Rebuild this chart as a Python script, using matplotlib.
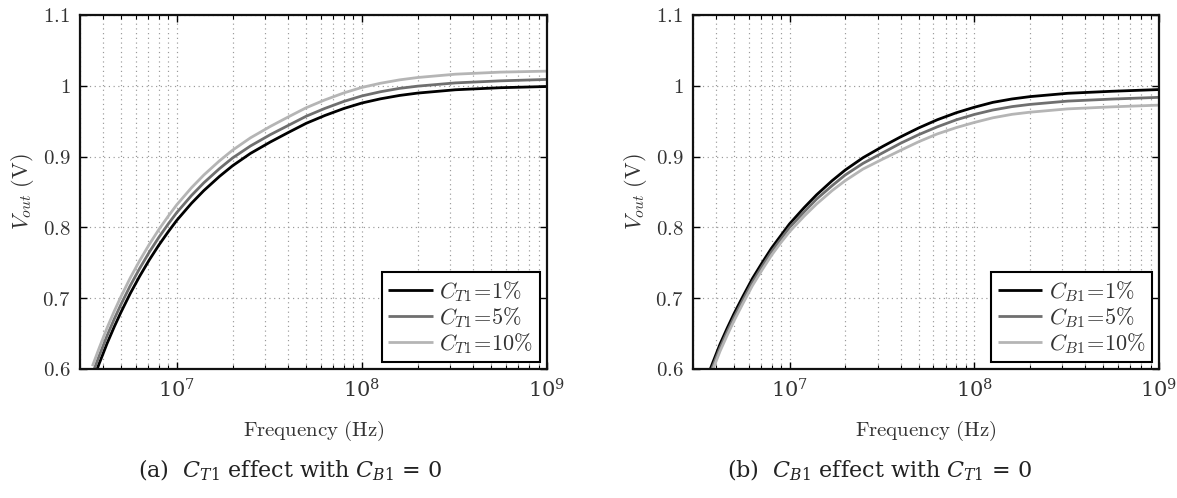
import numpy as np
import matplotlib
matplotlib.use("Agg")
import matplotlib.pyplot as plt
from matplotlib.ticker import LogLocator, FuncFormatter, LogFormatterSciNotation, NullFormatter

plt.rcParams['mathtext.fontset'] = 'cm'
plt.rcParams['font.family'] = ['DejaVu Serif']

# Frequency samples (Hz)
freq = [3.5e6, 3.8e6, 4.2e6, 4.6e6, 5.0e6, 5.6e6, 6.3e6, 7.1e6, 8.0e6, 9.0e6,
        1.0e7, 1.2e7, 1.4e7, 1.7e7, 2.0e7, 2.5e7, 3.2e7, 4.0e7, 5.0e7, 6.3e7,
        8.0e7, 1.0e8, 1.26e8, 1.6e8, 2.0e8, 3.2e8, 5.6e8, 1.0e9]

# Panel (a): C_T1 sweep (V)
a_ct1_1 = [0.582, 0.607, 0.636, 0.660, 0.6805, 0.7065, 0.731, 0.754, 0.775, 0.794,
           0.810, 0.834, 0.852, 0.872, 0.887, 0.9045, 0.9206, 0.934, 0.947, 0.958,
           0.968, 0.9757, 0.9816, 0.9864, 0.9897, 0.9944, 0.9973, 0.9990]
a_ct1_5 = [0.593, 0.618, 0.647, 0.671, 0.6915, 0.7175, 0.742, 0.765, 0.786, 0.805,
           0.821, 0.845, 0.863, 0.883, 0.898, 0.915, 0.931, 0.944, 0.957, 0.968,
           0.978, 0.9857, 0.9916, 0.9964, 0.9995, 1.0041, 1.0070, 1.0090]
a_ct1_10 = [0.604, 0.629, 0.658, 0.682, 0.7025, 0.7285, 0.753, 0.776, 0.797, 0.816,
            0.832, 0.856, 0.874, 0.894, 0.909, 0.9265, 0.9426, 0.956, 0.969, 0.980,
            0.990, 0.9977, 1.0036, 1.0084, 1.0117, 1.0164, 1.0193, 1.0207]

# Panel (b): C_B1 sweep (V)
b_cb1_1 = [0.582, 0.606, 0.635, 0.658, 0.678, 0.703, 0.728, 0.750, 0.771, 0.789,
           0.805, 0.828, 0.846, 0.866, 0.881, 0.8985, 0.9145, 0.928, 0.9405, 0.952,
           0.962, 0.9697, 0.9766, 0.9814, 0.9847, 0.9894, 0.9923, 0.9947]
b_cb1_5 = [0.577, 0.601, 0.630, 0.653, 0.673, 0.698, 0.723, 0.745, 0.766, 0.784,
           0.800, 0.822, 0.840, 0.859, 0.874, 0.8905, 0.9055, 0.919, 0.931, 0.942,
           0.952, 0.9595, 0.9658, 0.9706, 0.9737, 0.9784, 0.9813, 0.9837]
b_cb1_10 = [0.572, 0.596, 0.625, 0.648, 0.668, 0.693, 0.718, 0.740, 0.761, 0.779,
            0.794, 0.816, 0.833, 0.852, 0.866, 0.8825, 0.8966, 0.909, 0.921, 0.932,
            0.941, 0.9482, 0.9548, 0.9597, 0.9627, 0.9674, 0.9703, 0.9727]

a_labels = [r'$C_{T1}\!=\!1\%$', r'$C_{T1}\!=\!5\%$', r'$C_{T1}\!=\!10\%$']
b_labels = [r'$C_{B1}\!=\!1\%$', r'$C_{B1}\!=\!5\%$', r'$C_{B1}\!=\!10\%$']
y_ticks = [0.6, 0.7, 0.8, 0.9, 1.0, 1.1]
captions = [r'(a)  $C_{T1}$ effect with $C_{B1}$ = 0',
            r'(b)  $C_{B1}$ effect with $C_{T1}$ = 0']

colors = ['#000000', '#6f6f6f', '#b5b5b5']

fig = plt.figure(figsize=(11.77, 4.98), dpi=100)
ax_a = fig.add_axes([80/1177, 1-369/498, 467/1177, 354/498])
ax_b = fig.add_axes([693/1177, 1-369/498, 466/1177, 354/498])

panels = [(ax_a, [a_ct1_1, a_ct1_5, a_ct1_10], a_labels),
          (ax_b, [b_cb1_1, b_cb1_5, b_cb1_10], b_labels)]

FS = 15
for ax, series, labels in panels:
    for vals, c, lab in zip(series, colors, labels):
        ax.plot(freq, vals, color=c, lw=2.0, label=lab, solid_capstyle='butt',
                solid_joinstyle='round')
    ax.set_xscale('log')
    ax.set_xlim(3.0e6, 1e9)
    ax.set_ylim(0.6, 1.1)
    ax.set_yticks(y_ticks)
    ax.yaxis.set_major_formatter(FuncFormatter(lambda v, p: r'$%g$' % round(v, 2)))
    ax.xaxis.set_major_locator(LogLocator(base=10, numticks=10))
    ax.xaxis.set_minor_locator(LogLocator(base=10, subs=np.arange(2, 10), numticks=20))
    ax.xaxis.set_major_formatter(LogFormatterSciNotation())
    ax.xaxis.set_minor_formatter(NullFormatter())
    ax.grid(True, which='major', axis='both', linestyle=(0, (1, 3)), color='#999999', lw=0.85)
    ax.grid(True, which='minor', axis='x', linestyle=(0, (1, 3)), color='#999999', lw=0.85)
    ax.tick_params(which='both', direction='in', top=True, right=True, labelsize=FS,
                   labelcolor='#333333')
    ax.tick_params(which='major', length=5, width=1.0, pad=7)
    ax.tick_params(which='minor', length=3, width=0.8)
    for s in ax.spines.values():
        s.set_linewidth(1.6)
        s.set_color('#111111')
    ax.set_xlabel(r'$\mathrm{Frequency\ (Hz)}$', fontsize=FS, color='#333333', labelpad=12)
    ax.set_ylabel(r'$V_{out}\ \mathrm{(V)}$', fontsize=FS + 1, color='#333333', labelpad=4)
    leg = ax.legend(loc='lower right', fontsize=FS + 1, frameon=True, fancybox=False,
                    framealpha=1, edgecolor='#000000', borderaxespad=0.3,
                    handlelength=2.0, handletextpad=0.3, labelspacing=0.05,
                    borderpad=0.3)
    leg.get_frame().set_linewidth(1.5)
    for t in leg.get_texts():
        t.set_color('#333333')

fig.text(290/1177, 1-470/498, captions[0], ha='center', va='center', fontsize=16,
         family='DejaVu Serif', math_fontfamily='dejavuserif', color='#222222')
fig.text(880/1177, 1-470/498, captions[1], ha='center', va='center', fontsize=16,
         family='DejaVu Serif', math_fontfamily='dejavuserif', color='#222222')

fig.savefig('out.png', dpi=100)
